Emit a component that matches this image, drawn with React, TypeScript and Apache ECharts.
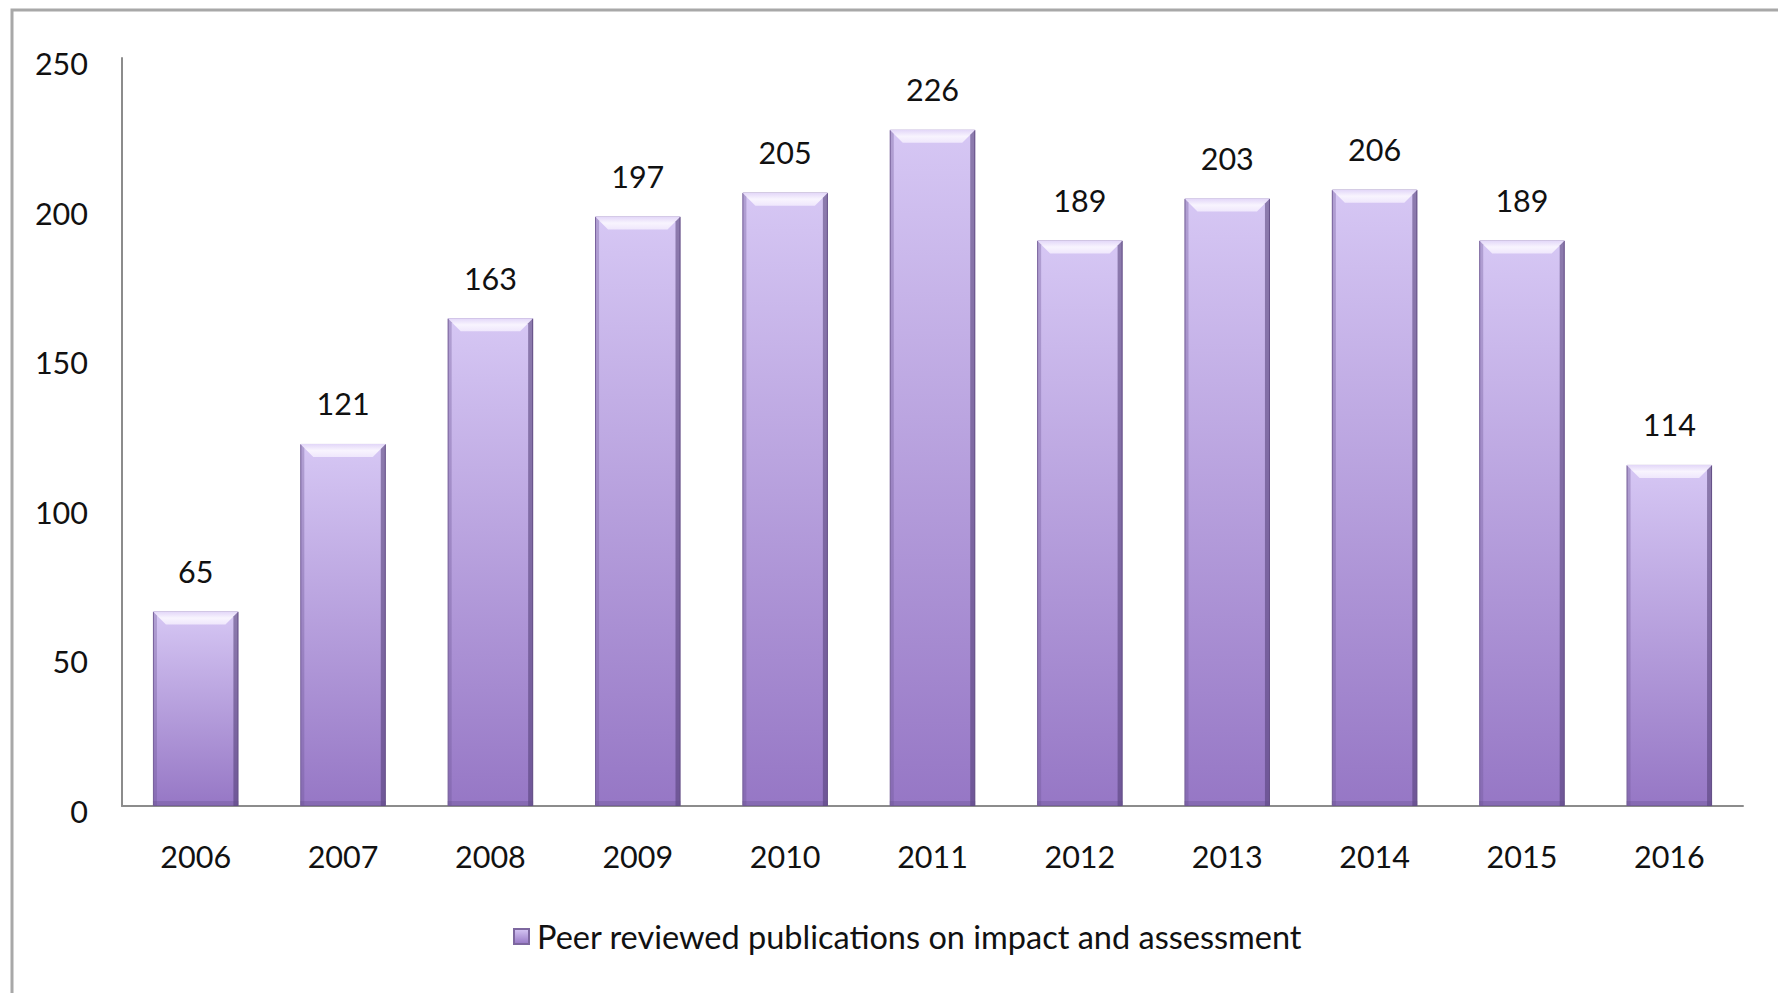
import React, { useEffect, useRef } from "react";
import * as echarts from "echarts";

const years = ["2006", "2007", "2008", "2009", "2010", "2011", "2012", "2013", "2014", "2015", "2016"];
const publications = [65, 121, 163, 197, 205, 226, 189, 203, 206, 189, 114];
const yTicks = { min: 0, max: 250, interval: 50 };
const seriesName = "Peer reviewed publications on impact and assessment";

const FONT = "Lato, 'Open Sans', sans-serif";
const BAR_RATIO = 0.58;

export default function App() {
  const ref = useRef<HTMLDivElement>(null);
  useEffect(() => {
    if (!ref.current) return;
    const chart = echarts.init(ref.current, undefined, { renderer: "svg" });
    const barGradient = new echarts.graphic.LinearGradient(0, 0, 0, 1, [
      { offset: 0, color: "#d6c7f4" },
      { offset: 1, color: "#9677c5" },
    ]);
    chart.setOption({
      animation: false,
      backgroundColor: "#ffffff",
      graphic: [
        {
          type: "rect",
          shape: { x: 12, y: 10, width: 1800, height: 1000 },
          style: { fill: "none", stroke: "#a8a8a8", lineWidth: 3 },
          silent: true,
          z: 0,
        },
      ],
      grid: { left: 122, right: 35, top: 58, bottom: 187, containLabel: false },
      legend: {
        data: [seriesName],
        left: 508,
        top: 915,
        itemWidth: 15,
        itemHeight: 15,
        icon: "rect",
        textStyle: { fontFamily: FONT, fontSize: 32.5, color: "#111111", padding: [0, 0, 0, 3] },
      },
      xAxis: {
        type: "category",
        data: years,
        axisLine: { show: true, lineStyle: { color: "#8c8c8c", width: 2 } },
        axisTick: { show: false },
        axisLabel: { fontFamily: FONT, fontSize: 30.5, color: "#111111", margin: 34 },
      },
      yAxis: {
        type: "value",
        min: yTicks.min,
        max: yTicks.max,
        interval: yTicks.interval,
        axisLine: { show: true, lineStyle: { color: "#8c8c8c", width: 2 } },
        axisTick: { show: false },
        splitLine: { show: false },
        axisLabel: {
          fontFamily: FONT,
          fontSize: 30.5,
          color: "#111111",
          margin: 34,
          verticalAlign: "top",
          lineHeight: 10,
        },
      },
      series: [
        {
          name: seriesName,
          type: "bar",
          data: publications,
          barWidth: (BAR_RATIO * 100).toFixed(1) + "%",
          itemStyle: { color: barGradient, borderColor: "#7d679f", borderWidth: 1 },
          label: {
            show: true,
            position: "top",
            distance: 25,
            fontFamily: FONT,
            fontSize: 30.5,
            color: "#111111",
          },
          z: 2,
        },
        {
          name: "bevel",
          type: "custom",
          data: publications.map((v, i) => [i, v]),
          silent: true,
          z: 3,
          renderItem: (params: any, api: any) => {
            const i = api.value(0);
            const v = api.value(1);
            const top = api.coord([i, v]);
            const bottom = api.coord([i, 0]);
            const w = api.size([1, 0])[0] * BAR_RATIO;
            const x0 = top[0] - w / 2;
            const x1 = top[0] + w / 2;
            const y0 = top[1];
            const y1 = bottom[1];
            const b = 13;
            return {
              type: "group",
              children: [
                {
                  type: "polygon",
                  shape: { points: [[x0, y0], [x1, y0], [x1 - b, y0 + b], [x0 + b, y0 + b]] },
                  style: {
                    fill: new echarts.graphic.LinearGradient(0, 0, 0, 1, [
                      { offset: 0, color: "#e2d6f8" },
                      { offset: 0.5, color: "#f8f4fe" },
                      { offset: 1, color: "#efe7fc" },
                    ]),
                  },
                },
                {
                  type: "polygon",
                  shape: { points: [[x0, y0], [x0 + 4, y0 + 4], [x0 + 4, y1], [x0, y1]] },
                  style: { fill: "rgba(110,85,150,0.35)" },
                },
                {
                  type: "polygon",
                  shape: { points: [[x1, y0], [x1 - 5, y0 + 5], [x1 - 5, y1], [x1, y1]] },
                  style: { fill: "rgba(80,60,115,0.55)" },
                },
                {
                  type: "rect",
                  shape: { x: x0, y: y1 - 5, width: w, height: 5 },
                  style: { fill: "rgba(100,75,140,0.3)" },
                },
              ],
            };
          },
        },
      ],
    });
    return () => chart.dispose();
  }, []);
  return (
    <div
      ref={ref}
      style={{ position: "absolute", left: 0, top: 0, width: 1778, height: 993 }}
    />
  );
}
